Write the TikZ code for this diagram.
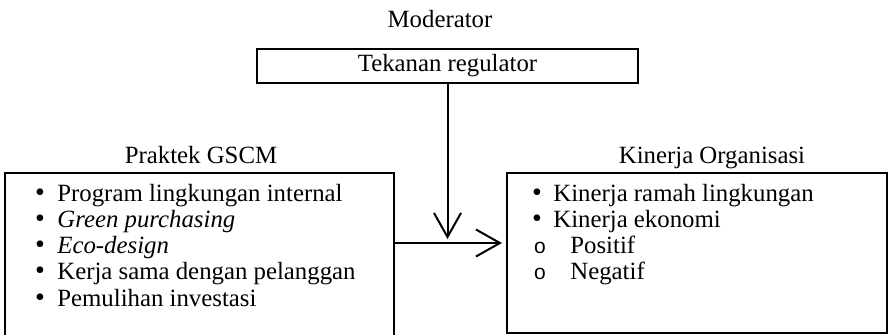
\documentclass[tikz,border=0pt]{standalone}
\usepackage{fontspec}
\setmainfont{Liberation Serif}
\newfontfamily\subfont{Liberation Sans}
\usetikzlibrary{arrows.meta}
\tikzset{
  box/.style={draw, line width=1pt, inner sep=0pt},
  title text/.style={font=\fontsize{12.4}{14}\selectfont, inner sep=0pt, anchor=base},
  item text/.style={font=\fontsize{12.4}{14}\selectfont, inner sep=0pt, anchor=base west},
  dot mark/.style={font=\fontsize{14}{14}\selectfont, inner sep=0pt, anchor=base, text height=7pt, text depth=0pt},
  ring mark/.style={font=\subfont\fontsize{10.5}{12}\selectfont, inner sep=0pt, anchor=base, text height=6pt, text depth=0pt},
  open arrow/.style={line width=1pt, -{Straight Barb[length=12pt,width=13.5pt,line width=1pt]}}
}
\begin{document}
\begin{tikzpicture}[x=0.5pt,y=-0.5pt]
  \useasboundingbox (0,0) rectangle (894,334);
  % moderator
  \node[title text] (moderator) at (440,27) {Moderator};
  \node[box, minimum width=190.5pt, minimum height=17pt, font=\fontsize{12.4}{14}\selectfont] (regulator) at (447.5,66) {Tekanan regulator};
  % praktek GSCM
  \node[title text] (gscm title) at (201,163) {Praktek GSCM};
  \node[box, minimum width=194.5pt, minimum height=88pt] (gscm) at (199.5,261) {};
  \foreach \txt [count=\i] in {Program lingkungan internal, \textit{Green purchasing}, \textit{Eco-design}, Kerja sama dengan pelanggan, Pemulihan investasi} {
    \node[dot mark] (gscm bullet \i) at (40,175+26.2*\i) {•};
    \node[item text] (gscm item \i) at (57,175+26.2*\i) {\txt};
  }
  % kinerja organisasi
  \node[title text] (kinerja title) at (712,163) {Kinerja Organisasi};
  \node[box, minimum width=190pt, minimum height=80pt] (kinerja) at (697,253) {};
  \node[dot mark] (kinerja bullet 1) at (537,201) {•};
  \node[item text] (kinerja item 1) at (553,201) {Kinerja ramah lingkungan};
  \node[dot mark] (kinerja bullet 2) at (537,227) {•};
  \node[item text] (kinerja item 2) at (553,227) {Kinerja ekonomi};
  \node[ring mark] (ekonomi mark 1) at (540,253) {o};
  \node[item text] (ekonomi item 1) at (570,253) {Positif};
  \node[ring mark] (ekonomi mark 2) at (540,279) {o};
  \node[item text] (ekonomi item 2) at (570,279) {Negatif};
  % connectors
  \coordinate (join) at (447.5,243);
  \draw[open arrow, shorten >=2pt] (regulator.south) -- (join);
  \draw[open arrow, shorten >=2pt] (join -| gscm.east) -- (join -| kinerja.west);
\end{tikzpicture}
\end{document}
